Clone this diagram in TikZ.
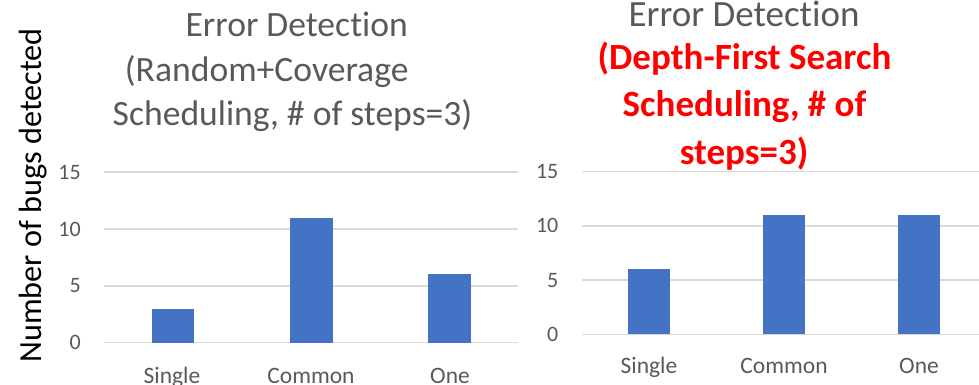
\documentclass[tikz,border=0pt]{standalone}
\usepackage{fontspec}
\setmainfont{Carlito}[Ligatures=NoCommon]
\usetikzlibrary{positioning}
\definecolor{barblue}{RGB}{68,114,196}
\definecolor{gridgray}{RGB}{217,217,217}
\definecolor{textgray}{RGB}{89,89,89}

\begin{document}
\begin{tikzpicture}[x=1pt, y=-1pt,
    gridline/.style={gridgray, line width=1.5pt},
    bar/.style={fill=barblue},
    ticklabel/.style={anchor=east, inner sep=0pt, textgray, font=\fontsize{22}{26}\selectfont},
    catlabel/.style={anchor=base, inner sep=0pt, textgray, font=\fontsize{23.5}{28}\selectfont},
    titleline/.style={anchor=base, inner sep=0pt, textgray, font=\fontsize{35.6}{44}\selectfont},
    redline/.style={anchor=base, inner sep=0pt, red, font=\fontsize{37}{46}\selectfont\bfseries}]
        \useasboundingbox (0,0) rectangle (979,385);
        %\draw [step=10, very thin, lightgray] (0,0) grid (979,385);

        % y axis label
        \node [rotate=90, anchor=base, inner sep=0pt, font=\fontsize{32.2}{38}\selectfont] (ylabel) at (41.5,195.5) {Number of bugs detected};

        % left chart
        \node [titleline] (lt1) at (296.7,36.7) {Error Detection};
        \node [titleline] (lt2) at (266.7,81.7) {(Random+Coverage};
        \node [titleline] (lt3) at (292.5,125) {Scheduling, \# of steps=3)};
        \begin{scope}[shift={(0,342.7)}, y=11.37pt]
            \foreach \v in {0,5,10,15} {
                \draw [gridline] (104,\v) -- (518,\v);
                \node [ticklabel] (lv\v) at (81,\v) {\v};
            }
            \fill [bar] (152,0) rectangle (194,3);
            \fill [bar] (290,0) rectangle (333,11);
            \fill [bar] (428,0) rectangle (471,6);
            \node [catlabel] (lsingle) at (172,-3.545) {Single};
            \node [catlabel] (lcommon) at (311,-3.545) {Common};
            \node [catlabel] (lone) at (450,-3.545) {One};
        \end{scope}

        % right chart
        \node [titleline, font=\fontsize{37}{46}\selectfont] (rt1) at (744,27) {Error Detection};
        \node [redline] (rt2) at (744.5,70) {(Depth-First Search};
        \node [redline] (rt3) at (744.5,117) {Scheduling, \# of};
        \node [redline] (rt4) at (744,164) {steps=3)};
        \begin{scope}[shift={(0,334.3)}, y=10.84pt]
            \foreach \v in {0,5,10,15} {
                \draw [gridline] (582,\v) -- (979,\v);
                \node [ticklabel] (rv\v) at (558.5,\v) {\v};
            }
            \fill [bar] (628,0) rectangle (670,6);
            \fill [bar] (763,0) rectangle (805,11);
            \fill [bar] (898,0) rectangle (940,11);
            \node [catlabel] (rsingle) at (649,-3.66) {Single};
            \node [catlabel] (rcommon) at (784,-3.66) {Common};
            \node [catlabel] (rone) at (919,-3.66) {One};
        \end{scope}
    \end{tikzpicture}
\end{document}
